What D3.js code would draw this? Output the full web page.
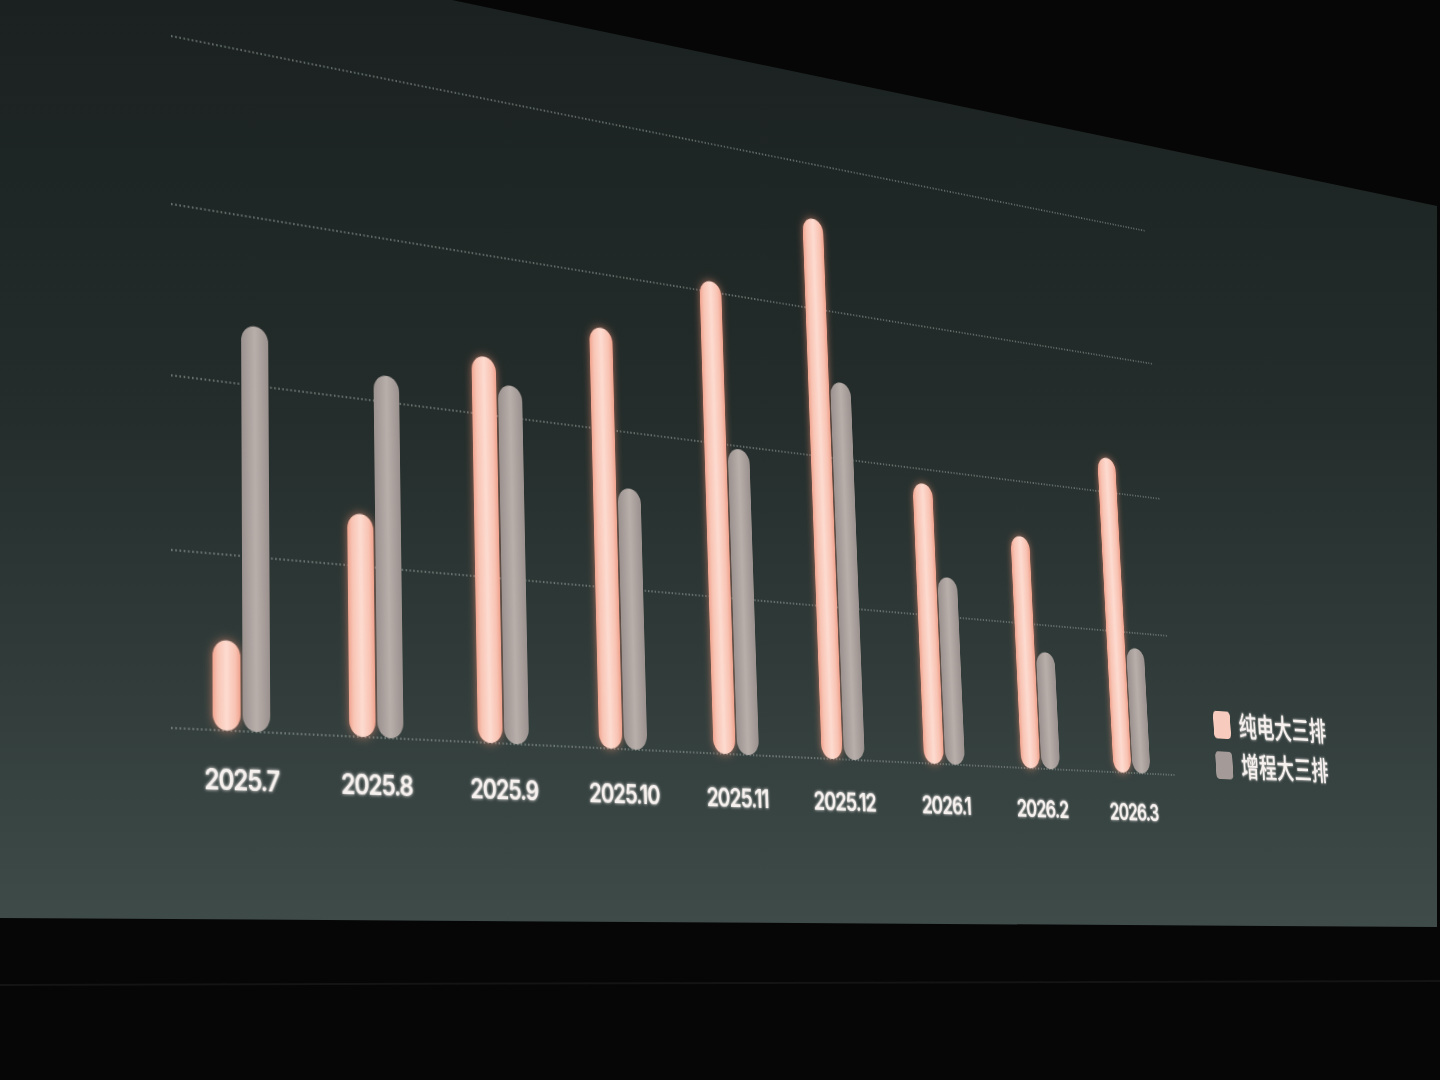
<!DOCTYPE html>
<html>
<head>
<meta charset="utf-8">
<script src="https://cdn.jsdelivr.net/npm/d3@7"></script>
<style>
  html, body { margin: 0; padding: 0; width: 1440px; height: 1080px; overflow: hidden; background: #060606; }
  #stage { position: absolute; left: 0; top: 0; }
  #slide { position: absolute; left: 0; top: 0; transform-origin: 0 0; }
</style>
</head>
<body>
<svg id="stage" width="1440" height="1080"></svg>
<div id="slide"></div>
<script>
// months on the x axis
const months = ['2025.7', '2025.8', '2025.9', '2025.10', '2025.11', '2025.12', '2026.1', '2026.2', '2026.3']
// 纯电大三排 (pink bars)
const pureElectric = [5.1, 13.1, 23.6, 26.5, 30.7, 36.2, 19.0, 16.1, 22.5]
// 增程大三排 (grey bars)
const rangeExtender = [23.5, 21.6, 22.0, 16.4, 19.8, 25.2, 12.7, 8.1, 8.9]
const seriesNames = ['纯电大三排', '增程大三排']
const gridTicks = [0, 10, 20, 30, 40]

// flat slide dimensions, later warped onto the photographed screen
let dimensions = {
  width: 1640,
  height: 760,
  margin: { top: 40, left: 40 },
  boundedWidth: 1260,
  boundedHeight: 600,
}

// where the plot corners land in the photo (tl, tr, br, bl)
const screenQuad = [[171, 36], [1146, 231], [1176, 775], [171, 728]]

drawScreen()
drawChart()

function drawScreen() {
  const stage = d3.select('#stage')
  const defs = stage.append('defs')
  const grad = defs.append('linearGradient')
    .attr('id', 'screenGrad')
    .attr('x1', 0).attr('y1', 0).attr('x2', 0).attr('y2', 1)
  grad.append('stop').attr('offset', 0).attr('stop-color', '#1a2120')
  grad.append('stop').attr('offset', 0.45).attr('stop-color', '#242d2b')
  grad.append('stop').attr('offset', 1).attr('stop-color', '#3e4b49')

  stage.append('rect').attr('width', 1440).attr('height', 1080).attr('fill', '#060606')
  stage.append('polygon')
    .attr('points', '0,0 452,0 1437,206 1437,927 0,918')
    .attr('fill', 'url(#screenGrad)')
  // faint stage edge below the screen
  stage.append('line')
    .attr('x1', 0).attr('x2', 1440).attr('y1', 985).attr('y2', 981)
    .attr('stroke', '#141414').attr('stroke-width', 2)
}

function drawChart() {
  const { boundedWidth: W, boundedHeight: H, margin } = dimensions

  const slide = d3.select('#slide')
    .style('width', dimensions.width + 'px')
    .style('height', dimensions.height + 'px')

  const src = [
    [margin.left, margin.top],
    [margin.left + W, margin.top],
    [margin.left + W, margin.top + H],
    [margin.left, margin.top + H],
  ]
  const m = homography(src, screenQuad)
  slide.style('transform',
    `matrix3d(${m[0]},${m[3]},0,${m[6]},${m[1]},${m[4]},0,${m[7]},0,0,1,0,${m[2]},${m[5]},0,1)`)

  const svg = slide.append('svg')
    .attr('width', dimensions.width)
    .attr('height', dimensions.height)

  const defs = svg.append('defs')
  const pinkGrad = defs.append('linearGradient').attr('id', 'pinkGrad')
  pinkGrad.append('stop').attr('offset', 0).attr('stop-color', '#f0a48f')
  pinkGrad.append('stop').attr('offset', 0.18).attr('stop-color', '#f8c4b4')
  pinkGrad.append('stop').attr('offset', 0.5).attr('stop-color', '#fddbd0')
  pinkGrad.append('stop').attr('offset', 0.82).attr('stop-color', '#f8c2b2')
  pinkGrad.append('stop').attr('offset', 1).attr('stop-color', '#efa18c')

  const greyGrad = defs.append('linearGradient').attr('id', 'greyGrad')
  greyGrad.append('stop').attr('offset', 0).attr('stop-color', '#9b928f')
  greyGrad.append('stop').attr('offset', 0.5).attr('stop-color', '#b8afab')
  greyGrad.append('stop').attr('offset', 1).attr('stop-color', '#9a918e')

  // soft orange halo round the pink tubes
  const glow = defs.append('filter').attr('id', 'glow')
    .attr('x', '-100%').attr('y', '-20%').attr('width', '300%').attr('height', '140%')
  glow.append('feGaussianBlur').attr('in', 'SourceAlpha').attr('stdDeviation', 4.5).attr('result', 'b')
  glow.append('feFlood').attr('flood-color', '#ff9478').attr('flood-opacity', 0.6)
  glow.append('feComposite').attr('in2', 'b').attr('operator', 'in').attr('result', 'g')
  const merge = glow.append('feMerge')
  merge.append('feMergeNode').attr('in', 'g')
  merge.append('feMergeNode').attr('in', 'SourceGraphic')

  const textGlow = defs.append('filter').attr('id', 'textGlow')
    .attr('x', '-20%').attr('y', '-40%').attr('width', '140%').attr('height', '180%')
  textGlow.append('feGaussianBlur').attr('in', 'SourceGraphic').attr('stdDeviation', 1.5).attr('result', 'b')
  const tm = textGlow.append('feMerge')
  tm.append('feMergeNode').attr('in', 'b')
  tm.append('feMergeNode').attr('in', 'SourceGraphic')

  const bounds = svg.append('g')
    .attr('transform', `translate(${margin.left}, ${margin.top})`)

  const xScale = d3.scaleBand().domain(months).range([0, W]).padding(0)
  const yScale = d3.scaleLinear().domain([0, 40]).range([H, 0])
  const barWidth = 28
  const barGap = 2

  // dotted gridlines
  bounds.append('g').attr('class', 'grid')
    .selectAll('line')
    .data(gridTicks)
    .join('line')
    .attr('x1', 0)
    .attr('x2', W)
    .attr('y1', (d) => yScale(d))
    .attr('y2', (d) => yScale(d))
    .attr('stroke', '#a3aba8')
    .attr('stroke-opacity', 0.7)
    .attr('stroke-width', 1.6)
    .attr('stroke-dasharray', '1.6 2.6')

  const series = [
    { name: seriesNames[0], values: pureElectric, offset: -(barWidth + barGap) / 2, fill: 'url(#pinkGrad)', glow: true },
    { name: seriesNames[1], values: rangeExtender, offset: (barWidth + barGap) / 2, fill: 'url(#greyGrad)', glow: false },
  ]

  series.forEach((s) => {
    bounds.append('g')
      .attr('class', 'bars')
      .attr('filter', s.glow ? 'url(#glow)' : null)
      .selectAll('rect')
      .data(s.values)
      .join('rect')
      .attr('x', (d, i) => xScale(months[i]) + xScale.bandwidth() / 2 + s.offset - barWidth / 2)
      .attr('y', (d) => yScale(d))
      .attr('width', barWidth)
      .attr('height', (d) => H - yScale(d))
      .attr('rx', barWidth / 2)
      .attr('fill', s.fill)
  })

  // x axis labels
  const xAxisGenerator = d3.axisBottom(xScale).tickSize(0).tickPadding(50)
  const xAxis = bounds.append('g')
    .attr('transform', `translate(0, ${H})`)
    .call(xAxisGenerator)
  xAxis.select('.domain').remove()
  xAxis.selectAll('text')
    .attr('dy', 0)
    .attr('fill', '#f6f1ef')
    .attr('font-family', 'Inter, "Noto Sans", sans-serif')
    .attr('font-size', 24.5)
    .attr('font-weight', 600)
    .attr('letter-spacing', '-1.3px')
    .attr('filter', 'url(#textGlow)')

  // legend
  const legend = bounds.append('g')
    .attr('transform', `translate(${W + 66}, ${H * 0.905})`)
  const rows = legend.selectAll('g')
    .data(series)
    .join('g')
    .attr('transform', (d, i) => `translate(0, ${i * 44})`)
  rows.append('rect')
    .attr('x', 0).attr('y', -15).attr('width', 28).attr('height', 30).attr('rx', 5)
    .attr('fill', (d, i) => (i === 0 ? '#f7cbbd' : '#a49b98'))
  rows.append('text')
    .attr('x', 42)
    .attr('dy', '0.36em')
    .attr('fill', '#f6f1ef')
    .attr('font-family', '"Noto Sans CJK SC", sans-serif')
    .attr('font-size', 30)
    .attr('font-weight', 500)
    .attr('filter', 'url(#textGlow)')
    .text((d) => d.name)
}

// solve the 8 unknowns that send src quad onto dst quad
function homography(src, dst) {
  const A = []
  const b = []
  for (let i = 0; i < 4; i++) {
    const [x, y] = src[i]
    const [u, v] = dst[i]
    A.push([x, y, 1, 0, 0, 0, -x * u, -y * u]); b.push(u)
    A.push([0, 0, 0, x, y, 1, -x * v, -y * v]); b.push(v)
  }
  const n = 8
  for (let c = 0; c < n; c++) {
    let p = c
    for (let r = c + 1; r < n; r++) if (Math.abs(A[r][c]) > Math.abs(A[p][c])) p = r
    ;[A[c], A[p]] = [A[p], A[c]]
    ;[b[c], b[p]] = [b[p], b[c]]
    for (let r = 0; r < n; r++) {
      if (r === c) continue
      const f = A[r][c] / A[c][c]
      for (let k = c; k < n; k++) A[r][k] -= f * A[c][k]
      b[r] -= f * b[c]
    }
  }
  return b.map((v, i) => v / A[i][i])
}
</script>
</body>
</html>
